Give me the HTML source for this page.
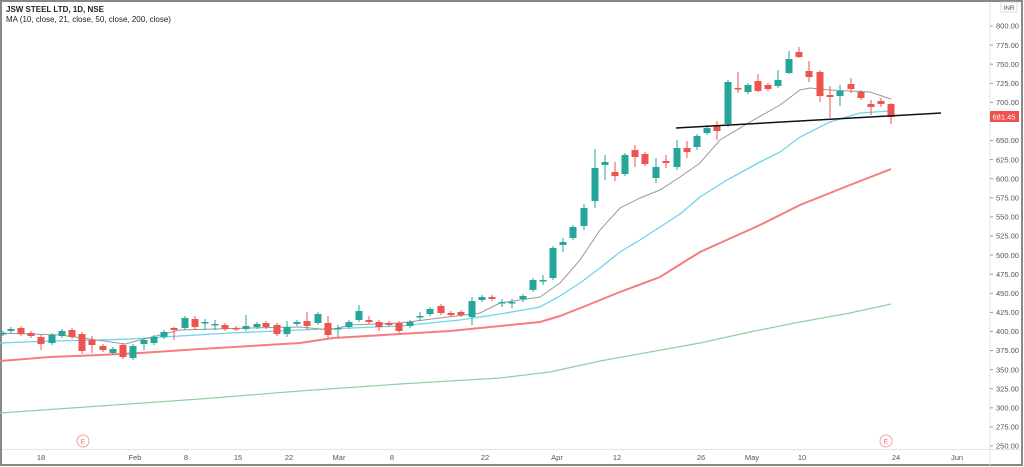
<!DOCTYPE html>
<html><head><meta charset="utf-8"><style>
body{margin:0;background:#fff;}
svg{display:block;font-family:"Liberation Sans",sans-serif;}
</style></head><body>
<svg id="s" width="1024" height="467" xmlns="http://www.w3.org/2000/svg">
<rect x="0" y="0" width="1024" height="467" fill="#fff"/>
<rect x="1" y="1" width="1021" height="464" fill="none" stroke="#888" stroke-width="2"/>
<line x1="990" y1="2" x2="990" y2="465" stroke="#e0e3eb"/>
<line x1="2" y1="449.5" x2="1021" y2="449.5" stroke="#e0e3eb"/>
<text x="6" y="12" font-size="8" font-weight="bold" fill="#222">JSW STEEL LTD, 1D, NSE</text>
<text x="6" y="22" font-size="8" fill="#222">MA (10, close, 21, close, 50, close, 200, close)</text>
<g id="yax" font-size="7.5" fill="#555"></g>
<g id="xax" font-size="7.5" fill="#555" text-anchor="middle">
<text x="41" y="460">18</text><text x="135" y="460">Feb</text><text x="186" y="460">8</text><text x="238" y="460">15</text><text x="289" y="460">22</text><text x="339" y="460">Mar</text><text x="392" y="460">8</text><text x="485" y="460">22</text><text x="557" y="460">Apr</text><text x="617" y="460">12</text><text x="701" y="460">26</text><text x="752" y="460">May</text><text x="802" y="460">10</text><text x="896" y="460">24</text><text x="957" y="460">Jun</text>
</g>
<g fill="#fff" stroke="#f7a0a0" stroke-width="1"><circle cx="83" cy="441" r="6"/><circle cx="886" cy="441" r="6"/></g>
<g font-size="7" fill="#f08080" text-anchor="middle"><text x="83" y="444">E</text><text x="886" y="444">E</text></g>
<polyline fill="none" stroke="#8fd19e" stroke-width="1.2" points="0,413 100,406 200,399 300,391 400,384 500,378 550,372 600,361 650,352 700,343 750,332 800,322 850,313 891,304"/>
<polyline fill="none" stroke="#f77c7c" stroke-width="2" points="0,361 50,357 100,355 140,353 200,349 300,343 333,338 400,334 450,331 520,324 540,322 560,316 583,307 620,292 660,277 700,252 720,243 760,225 800,205 850,185 891,169"/>
<polyline fill="none" stroke="#6dd5e8" stroke-width="1.3" points="0,343 50,341 100,340 130,339 180,336 230,333 300,330 400,326 460,320 500,314 540,307 560,296 580,283 600,268 620,252 640,240 660,227 680,214 700,197 727,180 760,162 780,152 800,137 830,122 860,113 890,111"/>
<polyline fill="none" stroke="#999" stroke-width="1" points="0,333 60,335 90,339 125,344 140,340 180,330 250,328 300,327 330,330 350,325 400,323 440,318 480,313 500,303 540,297 560,283 580,260 600,230 620,208 640,198 660,190 680,177 700,163 720,140 750,122 780,105 800,90 810,88 830,90 870,92 891,99"/>
<g id="c"></g>
<line x1="676" y1="128" x2="941" y2="113" stroke="#111" stroke-width="1.5"/>
<rect x="990" y="111" width="29" height="11" fill="#f05050"/>
<text x="1004" y="119.5" font-size="7.5" fill="#fff" text-anchor="middle">681.45</text>
<rect x="1001" y="2" width="16" height="10" fill="#fff" stroke="#ccc" stroke-width="0.7"/>
<text x="1009" y="10" font-size="6.5" fill="#555" text-anchor="middle">INR</text>
</svg>
<script>
var ns="http://www.w3.org/2000/svg";
function el(t,a,p){var e=document.createElementNS(ns,t);for(var k in a)e.setAttribute(k,a[k]);p.appendChild(e);return e;}
var ya=document.getElementById('yax');
for(var p=800;p>=250;p-=25){var y=26+(800-p)*0.7636;if(p==675)continue;el('line',{x1:990,y1:y,x2:993,y2:y,stroke:'#999'},ya);var t=el('text',{x:996,y:y+2.7},ya);t.textContent=p.toFixed(2);}
// x, color, bodyTop, bodyBottom, wickTop, wickBottom
var C=[[3,'g',333,334],[11,'g',329,331],[21,'r',328,334],[31,'r',333,336],[41,'r',337,344,335,350],[52,'g',335,343],[62,'g',331,336],[72,'r',330,337],[82,'r',334,351,332,354],[92,'r',340,345,336,353],[103,'r',346,350],[113,'g',349,353],[123,'r',345,357],[133,'g',346,358],[144,'g',340,344,338,350],[154,'g',337,343],[164,'g',332,337],[174,'r',328,330,327,340],[185,'g',318,328],[195,'r',319,327,316,330],[205,'g',322,323,319,330],[215,'g',324,325,320,330],[225,'r',325,329],[236,'r',328,329],[246,'g',326,329,315,331],[257,'g',324,327],[266,'r',323,327],[277,'r',325,334],[287,'g',327,334,321,337],[297,'g',322,324],[307,'r',321,326,312,330],[318,'g',314,323],[328,'r',323,335,316,338],[338,'g',328,329,325,337],[349,'g',322,327],[359,'g',311,320,305,322],[369,'r',320,322,316,324],[379,'r',322,327,320,331],[389,'r',323,325],[399,'r',323,331,321,333],[410,'g',322,326],[420,'g',316,317,312,321],[430,'g',309,314],[441,'r',306,313],[451,'r',313,315],[461,'r',312,315],[472,'g',301,317,297,325],[482,'g',297,300],[492,'r',297,299],[502,'g',302,303,299,307],[512,'g',302,303,299,308],[523,'g',296,299,294,302],[533,'g',280,290,278,292],[543,'g',280,281,275,285],[553,'g',248,278],[563,'g',242,245,238,252],[573,'g',227,238],[584,'g',208,226,204,230],[595,'g',168,201,149,208],[605,'g',162,165,155,180],[615,'r',172,176,162,181],[625,'g',155,174],[635,'r',150,157,145,167],[645,'r',154,164],[656,'g',167,178,158,183],[666,'r',161,163,155,168],[677,'g',148,167,140,170],[687,'r',148,152,141,158],[697,'g',136,147,134,150],[707,'g',128,133,125,135],[717,'r',126,131,121,140],[728,'g',82,124,80,127],[738,'r',88,89,72,93],[748,'g',85,92],[758,'r',81,91,74,92],[768,'r',85,89],[778,'g',80,86,70,88],[789,'g',59,73,51,74],[799,'r',52,57,47,58],[809,'r',71,77,61,82],[820,'r',72,96,70,102],[830,'r',95,97,86,118],[840,'g',91,96,85,106],[851,'r',84,89,78,93],[861,'r',92,98],[871,'r',104,107,100,115],[881,'r',101,104,98,107],[891,'r',104,117,103,124]];
var g=document.getElementById('c');
C.forEach(function(c){var col=c[1]=='g'?'#26a69a':'#ef5350';var wt=c[4]||c[2]-2,wb=c[5]||c[3]+2;
el('line',{x1:c[0],y1:wt,x2:c[0],y2:wb,stroke:col,'stroke-width':1},g);
var h=Math.max(1.5,c[3]-c[2]);el('rect',{x:c[0]-3.5,y:c[2],width:7,height:h,fill:col},g);});
</script>
</body></html>
